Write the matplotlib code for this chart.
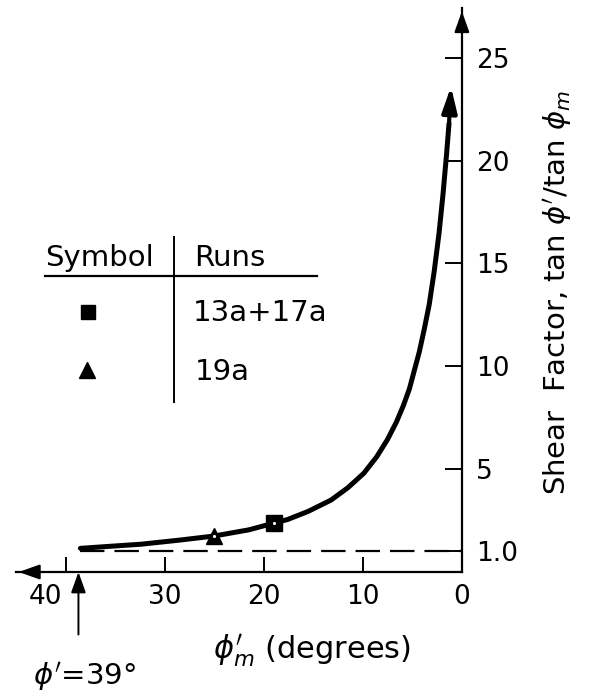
import matplotlib
matplotlib.use("Agg")
import matplotlib.pyplot as plt
import matplotlib.transforms as mtransforms

# curve (phi'_m in degrees, shear factor)
phi_m = [38.5, 35.5, 32.4, 28.5, 25.0, 21.5, 18.8, 17.6, 15.5, 13.2, 11.5, 9.9,
         8.6, 7.5, 6.6, 5.9, 5.3, 4.8, 4.3, 3.8, 3.3, 2.8, 2.3, 1.9, 1.55, 1.3]
shear = [1.15, 1.25, 1.35, 1.55, 1.75, 2.05, 2.4, 2.55, 2.95, 3.5, 4.1, 4.8,
         5.6, 6.45, 7.3, 8.1, 8.9, 9.8, 10.7, 11.8, 13.0, 14.6, 16.5, 18.4, 20.3, 21.8]
arrow_tip = (1.1, 23.6)

# measured runs
run_sq_x, run_sq_y = [19.0], [2.4]      # 13a + 17a
run_tri_x, run_tri_y = [25.0], [1.75]   # 19a

phi_prime = 39
x_ticks = [40, 30, 20, 10, 0]
x_labels = ["40", "30", "20", "10", "0"]
y_ticks = [1, 5, 10, 15, 20, 25]
y_labels = ["1.0", "5", "10", "15", "20", "25"]

plt.rcParams["font.family"] = ["DejaVu Sans"]
plt.rcParams["mathtext.fontset"] = "dejavusans"

fig = plt.figure(figsize=(5.89, 6.94), dpi=100)
ax = fig.add_axes([0.0272, 0.1758, 0.757, 0.812])
ax.set_xlim(45, 0)
ax.set_ylim(0, 27.4)

for s in ["top", "left"]:
    ax.spines[s].set_visible(False)
for s in ["bottom", "right"]:
    ax.spines[s].set_linewidth(1.6)
ax.yaxis.tick_right()

ax.set_xticks(x_ticks)
ax.set_xticklabels(x_labels)
ax.set_yticks(y_ticks)
ax.set_yticklabels(y_labels)
ax.tick_params(axis="x", direction="in", length=11, width=1.4, pad=9, labelsize=19)
ax.tick_params(axis="y", direction="in", length=12, width=1.4, pad=10, labelsize=19)

# move the "40" label left, out of the way of the phi' arrow
shift = mtransforms.ScaledTranslation(-0.2, 0, fig.dpi_scale_trans)
lbl40 = ax.get_xticklabels()[0]
lbl40.set_transform(lbl40.get_transform() + shift)

# axis arrowheads
head = "-|>,head_length=0.7,head_width=0.25"
ax.annotate("", xy=(0, 0), xycoords="axes fraction", xytext=(0.03, 0),
            arrowprops=dict(arrowstyle=head, color="k", lw=1.6, mutation_scale=18))
ax.annotate("", xy=(1, 1), xycoords="axes fraction", xytext=(1, 0.97),
            arrowprops=dict(arrowstyle=head, color="k", lw=1.6, mutation_scale=18))

# reference line at 1.0
ax.plot([phi_prime - 0.5, 0], [1, 1], color="k", lw=1.6, ls=(0, (11, 4.5)))

# curve
ax.plot(phi_m, shear, color="k", lw=3.6, solid_capstyle="round",
        solid_joinstyle="round", zorder=3)
ax.annotate("", xy=arrow_tip, xytext=(phi_m[-1], shear[-1]),
            arrowprops=dict(arrowstyle="-|>,head_length=0.85,head_width=0.25",
                            color="k", lw=3.0, mutation_scale=18,
                            shrinkA=0, shrinkB=0))

ax.plot(run_sq_x, run_sq_y, "s", color="k", ms=11, zorder=4)
ax.plot(run_tri_x, run_tri_y, "^", color="k", ms=12, zorder=4)
ax.plot(run_sq_x + run_tri_x, run_sq_y + run_tri_y, ".", color="w", ms=2.5, zorder=5)

# phi' = 39 deg marker below axis
ax.annotate("", xy=(phi_prime - 0.3, 0), xytext=(0, -45), textcoords="offset points",
            arrowprops=dict(arrowstyle="-|>,head_length=0.7,head_width=0.25",
                            color="k", lw=1.4, mutation_scale=18, shrinkA=0, shrinkB=0))
ax.annotate(r"$\phi'$=39°", xy=(phi_prime - 0.3, 0), xytext=(4, -75),
            textcoords="offset points", ha="center", va="center", fontsize=21,
            annotation_clip=False)

ax.set_xlabel(r"$\phi_m^{\prime}$ (degrees)", fontsize=22)
ax.xaxis.set_label_coords(0.665, -0.108)

fig.text(0.946, 0.579, r"Shear  Factor, tan $\phi'$/tan $\phi_m$", rotation=90,
         ha="center", va="center", fontsize=21)

# symbol table
fig.text(0.076, 0.628, "Symbol", fontsize=21, va="center")
fig.text(0.329, 0.628, "Runs", fontsize=21, va="center")
fig.text(0.328, 0.549, "13a+17a", fontsize=21, va="center")
fig.text(0.331, 0.464, "19a", fontsize=21, va="center")
fig.add_artist(plt.Line2D([0.076, 0.538], [0.602, 0.602], color="k", lw=1.6))
fig.add_artist(plt.Line2D([0.295, 0.295], [0.421, 0.659], color="k", lw=1.4))
fig.add_artist(plt.Line2D([0.149], [0.550], marker="s", color="k", ms=10))
fig.add_artist(plt.Line2D([0.148], [0.467], marker="^", color="k", ms=11))

fig.savefig("out.png", dpi=100)
